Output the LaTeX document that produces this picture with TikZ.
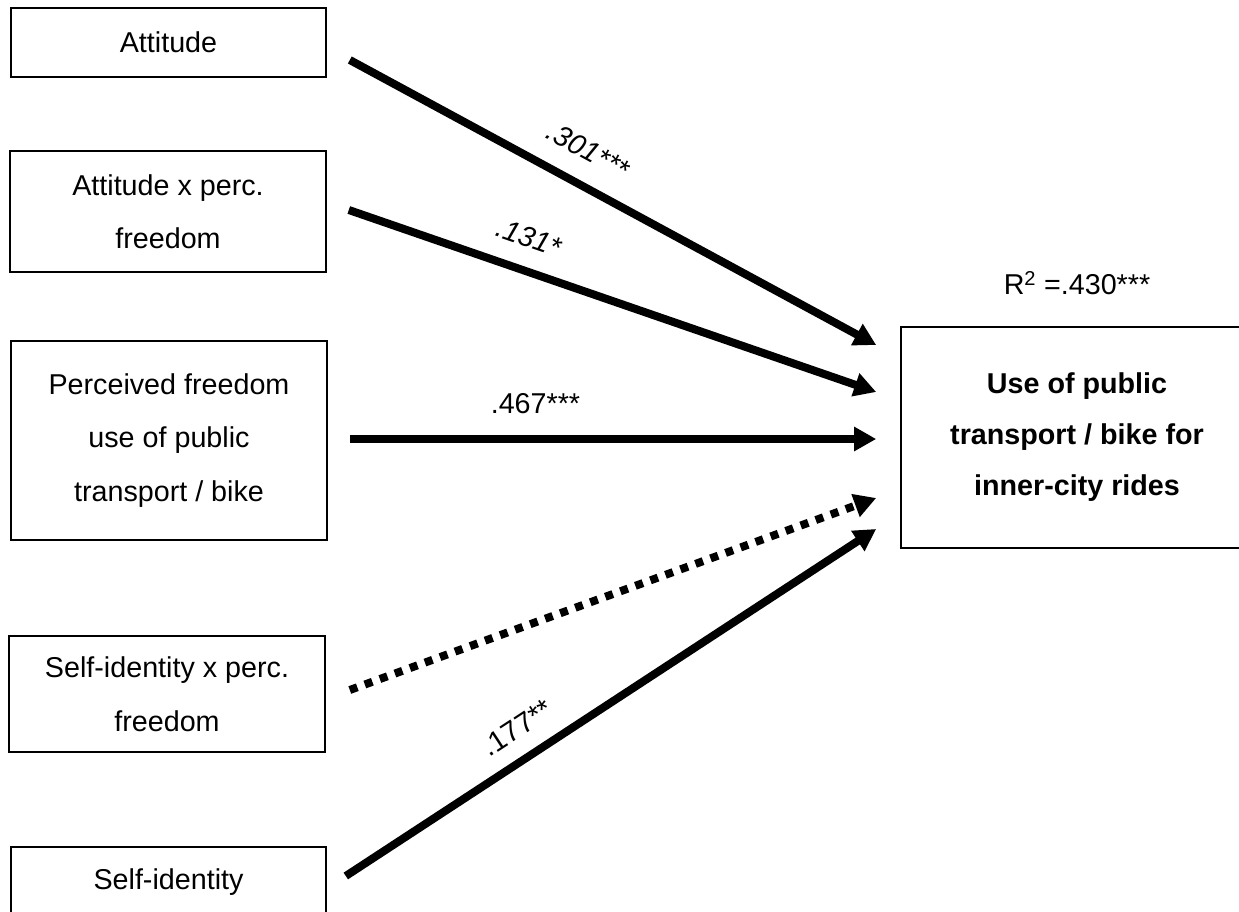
\documentclass[tikz,border=0pt]{standalone}
\usepackage{fontspec}
\setmainfont{Liberation Sans}
\usetikzlibrary{arrows.meta}
\begin{document}
\begin{tikzpicture}[x=1pt,y=-1pt,
  box/.style={draw, line width=1.6pt, inner sep=0pt, align=center,
    font=\fontsize{28.7}{53.5}\selectfont},
  outbox/.style={box, font=\fontsize{28.7}{51}\selectfont\bfseries},
  link/.style={line width=8pt, -{Triangle[length=22pt,width=23pt]}},
  dotlink/.style={link, dash pattern=on 8pt off 8pt},
  coef/.style={font=\fontsize{28.7}{34}\selectfont, inner xsep=0pt,
    text depth=0pt, anchor=south},
  coefit/.style={coef, font=\fontsize{28.7}{34}\selectfont\itshape}
]
\useasboundingbox (0,0) rectangle (1239,912);

% predictor boxes
\node[box, minimum width=315pt, minimum height=69pt]  (att)  at (168.5,42.5)  {Attitude};
\node[box, minimum width=316pt, minimum height=121pt] (attf) at (168,211.5)   {Attitude x perc.\\freedom};
\node[box, minimum width=316pt, minimum height=199pt] (pf)   at (169,440.5)   {Perceived freedom\\use of public\\transport / bike};
\node[box, minimum width=316pt, minimum height=116pt] (sif)  at (167,694)     {Self-identity x perc.\\freedom};
\node[box, minimum width=315pt, minimum height=71pt]  (si)   at (168.5,882.5) {Self-identity};

% outcome box and explained variance
\node[outbox, minimum width=352pt, minimum height=221pt] (out) at (1077,437.5)
  {Use of public\\transport / bike for\\inner-city rides};
\node[coef, anchor=center, inner ysep=0pt] (rsq) at (1077,283) {R\textsuperscript{2} =.430***};

% paths
\draw[link] ([xshift=23pt,yshift=-17.5pt]att.east) -- ([xshift=-24pt,yshift=92.5pt]out.west)
  node[coefit, sloped, pos=0.4223, inner ysep=20pt] {.301***};
\draw[link] ([xshift=22pt,yshift=1.5pt]attf.east) -- ([xshift=-24pt,yshift=45.5pt]out.west)
  node[coefit, sloped, pos=0.3212, inner ysep=19pt] {.131*};
\draw[link] ([xshift=22pt,yshift=1.5pt]pf.east) -- ([xshift=-24pt,yshift=-1.5pt]out.west)
  node[coef, pos=0.3527, inner ysep=22pt] {.467***};
\draw[dotlink] ([xshift=24pt,yshift=4pt]sif.east) -- ([xshift=-24pt,yshift=-60.5pt]out.west);
\draw[link] ([xshift=19pt,yshift=6.5pt]si.east) -- ([xshift=-24pt,yshift=-91.5pt]out.west)
  node[coef, sloped, pos=0.354, inner ysep=16.5pt] {.177**};
\end{tikzpicture}
\end{document}
